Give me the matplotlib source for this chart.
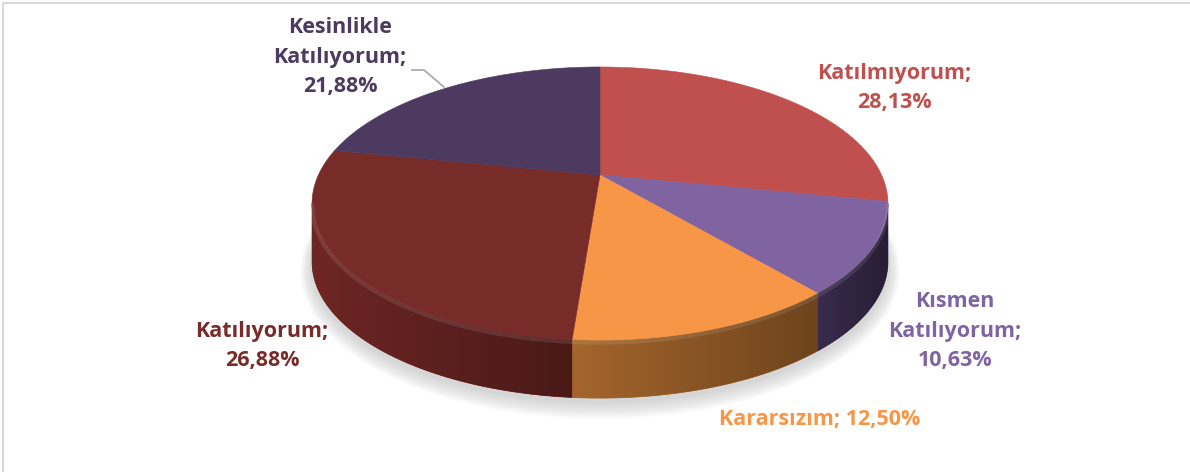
"""3D-style pie chart of survey answers (Turkish labels), drawn with plain matplotlib polygons."""

import numpy as np
import matplotlib
matplotlib.use('Agg')
import matplotlib.pyplot as plt
from matplotlib.colors import to_rgb
from matplotlib.patches import Polygon

# ------------------------------ data ------------------------------
names = ['Katılmıyorum;', 'Kısmen\nKatılıyorum;', 'Kararsızım;', 'Katılıyorum;', 'Kesinlikle\nKatılıyorum;']
values = [28.13, 10.63, 12.50, 26.88, 21.88]
top_colors = ['#C0504D', '#8064A2', '#F79646', '#772C2A', '#4D3A60']
side_colors = ['#8E3A38', '#3B2C4E', '#A5662C', '#6E2624', '#3A2B4A']
label_colors = ['#C0504D', '#8064A2', '#F79646', '#772C2A', '#4D3A60']

# ------------------------------ layout ------------------------------
W, H = 1190, 472
CX, CY = 600, 175          # projected centre of the disc (apex of slices)
SX, SY = 281.6, 130.6      # horizontal / vertical scale
K = 0.209                  # perspective strength
DEPTH = 58                 # thickness of the disc in pixels

label_pos = [(894, 88), (955, 331), (820, 420), (262, 346), (340, 57)]
label_sep = ['\n', '\n', ' ', '\n', '\n']

FONT = ['Open Sans', 'DejaVu Sans']


def proj(theta, drop=0.0):
    # theta measured clockwise from 12 o'clock, in radians
    X = np.sin(theta)
    Y = np.cos(theta)
    w = 1 + K * Y
    return CX + SX * X / w, CY - SY * Y / w + drop


fig = plt.figure(figsize=(W / 100, H / 100), dpi=100)
ax = fig.add_axes([0, 0, 1, 1])
ax.set_xlim(0, W)
ax.set_ylim(H, 0)
ax.axis('off')

# chart border (light grey)
ax.plot([3, 3, W + 5], [H + 5, 3, 3], color='#D9D9D9', lw=1.5, solid_capstyle='butt')

# soft shadow under the disc
t_all = np.linspace(0, 2 * np.pi, 400)
for grow in np.linspace(12, 0, 12):
    xs, ys = proj(t_all, DEPTH + 5)
    xs = CX + (xs - CX) * (1 + grow / 290)
    ys = CY + 30 + (ys - CY - 30) * (1 + grow / 150)
    ax.fill(xs, ys, color='#808080', alpha=0.028, lw=0, zorder=1)

# slice angles
bounds = np.concatenate([[0], np.cumsum(values)]) / np.sum(values) * 2 * np.pi
th_right = np.arccos(-K)               # right silhouette
th_left = 2 * np.pi - np.arccos(-K)    # left silhouette

# side walls: one polygon per slice, filled with a left-to-right darkening gradient
for i in range(len(values)):
    a0 = max(bounds[i], th_right)
    a1 = min(bounds[i + 1], th_left)
    if a1 <= a0:
        continue
    ts = np.linspace(a0, a1, 150)
    x_top, y_top = proj(ts)
    x_bot, y_bot = proj(ts[::-1], DEPTH)
    poly = Polygon(np.c_[np.r_[x_top, x_bot], np.r_[y_top, y_bot]], closed=True,
                   fc=side_colors[i], ec=side_colors[i], lw=0.5, zorder=2)
    ax.add_patch(poly)
    xmin, xmax = x_top.min(), x_top.max()
    ymin, ymax = y_top.min(), y_bot.max()
    base = np.array(to_rgb(side_colors[i]))
    f = np.linspace(1.0, 0.66, 256)
    grad = base[None, None, :] * f[None, :, None]
    im = ax.imshow(grad, extent=(xmin - 2, xmax + 2, ymax + 2, ymin - 2), aspect='auto',
                   interpolation='bilinear', zorder=2.1)
    im.set_clip_path(poly)

# top faces
for i in range(len(values)):
    ts = np.linspace(bounds[i], bounds[i + 1], 200)
    xs, ys = proj(ts)
    ax.fill(np.r_[CX, xs], np.r_[CY, ys], color=top_colors[i], lw=0.4, ec=top_colors[i], zorder=3)

# soft highlight along the front rim
ts = np.linspace(th_right, th_left, 300)
xs, ys = proj(ts, 2.5)
ax.plot(xs, ys, color='white', alpha=0.10, lw=3, zorder=4)

# data labels
for i in range(len(values)):
    txt = names[i] + label_sep[i] + f'{values[i]:.2f}'.replace('.', ',') + '%'
    ax.text(label_pos[i][0], label_pos[i][1], txt, color=label_colors[i], fontsize=15.5,
            fontweight='bold', family=FONT, ha='center', va='center', linespacing=1.55, zorder=5)

# leader line for the "Kesinlikle Katılıyorum" label
ax.plot([412, 424, 444], [70, 70, 87], color='#A6A6A6', lw=1.2, zorder=5)

fig.savefig('out.png', dpi=100)
